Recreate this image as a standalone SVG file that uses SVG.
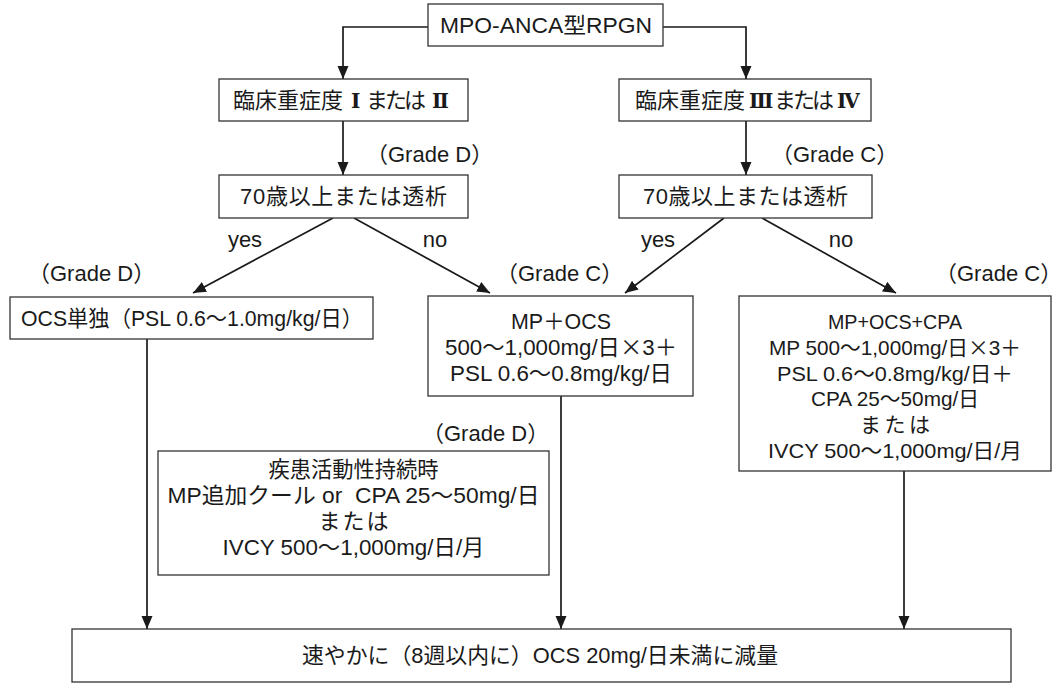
<svg xmlns="http://www.w3.org/2000/svg" width="1063" height="684" viewBox="0 0 1063 684">
<style>
.box{fill:#fff;stroke:#333;stroke-width:1.3}
.ln{fill:none;stroke:#1a1a1a;stroke-width:1.7}
text{font-family:"Liberation Sans","Noto Sans CJK JP",sans-serif;font-size:22px;fill:#1a1a1a}
.c{text-anchor:middle}
.s{font-size:21px}
.j{font-family:"Noto Sans CJK JP",sans-serif}
.r{font-family:"DejaVu Serif","Liberation Serif",serif;font-weight:bold;font-size:20px}
.t{letter-spacing:-3px}
</style>
<defs>
<marker id="ah" markerUnits="userSpaceOnUse" markerWidth="14" markerHeight="12" refX="13" refY="6" orient="auto">
<path d="M0,0.5 L13,6 L0,11.5 z" fill="#1a1a1a"/>
</marker>
</defs>
<g id="connectors">
<path class="ln" d="M428,27 H343 V79" marker-end="url(#ah)"/>
<path class="ln" d="M663,27 H746 V79" marker-end="url(#ah)"/>
<path class="ln" d="M343,121 V175" marker-end="url(#ah)"/>
<path class="ln" d="M746,121 V175" marker-end="url(#ah)"/>
<path class="ln" d="M333,218 L193,293" marker-end="url(#ah)"/>
<path class="ln" d="M354,218 L490,293" marker-end="url(#ah)"/>
<path class="ln" d="M724,218 L625,293" marker-end="url(#ah)"/>
<path class="ln" d="M762,218 L896,293" marker-end="url(#ah)"/>
<path class="ln" d="M147,339 V629" marker-end="url(#ah)"/>
<path class="ln" d="M561,396 V629" marker-end="url(#ah)"/>
<path class="ln" d="M904,471 V629" marker-end="url(#ah)"/>
<text x="245" y="247" class="c">yes</text>
<text x="435" y="247" class="c">no</text>
<text x="658" y="247" class="c">yes</text>
<text x="841" y="247" class="c">no</text>
</g>
<g id="n-top">
<rect class="box" x="428" y="4" width="235" height="42"/>
<text x="546" y="33" class="c" textLength="212" lengthAdjust="spacingAndGlyphs">MPO-ANCA型RPGN</text>
</g>
<g id="n-sev12">
<rect class="box" x="219" y="79" width="249" height="42"/>
<text y="108"><tspan x="233">臨床重症度</tspan><tspan x="351" class="r">Ⅰ</tspan><tspan x="366" class="t">または</tspan><tspan x="432" class="r">Ⅱ</tspan></text>
</g>
<g id="n-sev34">
<rect class="box" x="619" y="79" width="252" height="42"/>
<text y="108"><tspan x="635">臨床重症度</tspan><tspan x="749" class="r">Ⅲ</tspan><tspan x="774" class="t">または</tspan><tspan x="837" class="r">Ⅳ</tspan></text>
</g>
<g id="g-left-top"><text x="366" y="162">（Grade D）</text></g>
<g id="g-right-top"><text x="771" y="162">（Grade C）</text></g>
<g id="n-age-left">
<rect class="box" x="219" y="175" width="249" height="43"/>
<text x="343.5" y="204" class="c" textLength="207" lengthAdjust="spacing">70歳以上または透析</text>
</g>
<g id="n-age-right">
<rect class="box" x="619" y="175" width="253" height="43"/>
<text x="745.5" y="204" class="c" textLength="205" lengthAdjust="spacing">70歳以上または透析</text>
</g>
<g id="g-ocs"><text x="28" y="281">（Grade D）</text></g>
<g id="g-mp"><text x="496" y="281">（Grade C）</text></g>
<g id="g-cpa"><text x="935" y="281">（Grade C）</text></g>
<g id="n-ocs">
<rect class="box" x="10" y="297" width="363" height="42"/>
<text x="192" y="326" class="c" textLength="342" lengthAdjust="spacingAndGlyphs">OCS単独（PSL 0.6〜1.0mg/kg/日）</text>
</g>
<g id="n-mpocs">
<rect class="box" x="428" y="296" width="265" height="100"/>
<text x="561" y="329" class="c" textLength="100" lengthAdjust="spacingAndGlyphs">MP＋OCS</text>
<text x="561" y="355" class="c" textLength="232" lengthAdjust="spacingAndGlyphs">500〜1,000mg/日<tspan class="j">×</tspan>3＋</text>
<text x="561" y="381" class="c" textLength="222" lengthAdjust="spacingAndGlyphs">PSL 0.6〜0.8mg/kg/日</text>
</g>
<g id="n-cpa">
<rect class="box" x="739" y="296" width="312" height="175"/>
<text x="895" y="329" class="c s" textLength="134" lengthAdjust="spacingAndGlyphs">MP+OCS+CPA</text>
<text x="895" y="355" class="c s" textLength="252" lengthAdjust="spacingAndGlyphs">MP 500〜1,000mg/日<tspan class="j">×</tspan>3＋</text>
<text x="895" y="381" class="c s" textLength="236" lengthAdjust="spacingAndGlyphs">PSL 0.6〜0.8mg/kg/日＋</text>
<text x="895" y="406" class="c s" textLength="168" lengthAdjust="spacingAndGlyphs">CPA 25〜50mg/日</text>
<text x="895" y="432" class="c s" textLength="70" lengthAdjust="spacing">または</text>
<text x="895" y="458" class="c s" textLength="254" lengthAdjust="spacingAndGlyphs">IVCY 500〜1,000mg/日/月</text>
</g>
<g id="g-dis"><text x="422" y="441">（Grade D）</text></g>
<g id="n-dis">
<rect class="box" x="158" y="451" width="391" height="124"/>
<text x="353.5" y="477" class="c" textLength="170" lengthAdjust="spacingAndGlyphs">疾患活動性持続時</text>
<text x="353.5" y="503" class="c" xml:space="preserve" textLength="372" lengthAdjust="spacingAndGlyphs">MP追加クール or  CPA 25〜50mg/日</text>
<text x="353.5" y="529" class="c" textLength="70" lengthAdjust="spacing">または</text>
<text x="353.5" y="555" class="c" textLength="262" lengthAdjust="spacingAndGlyphs">IVCY 500〜1,000mg/日/月</text>
</g>
<g id="n-final">
<rect class="box" x="72" y="629" width="939" height="53"/>
<text x="540" y="663" class="c" textLength="476" lengthAdjust="spacingAndGlyphs">速やかに（8週以内に）OCS 20mg/日未満に減量</text>
</g>
</svg>
